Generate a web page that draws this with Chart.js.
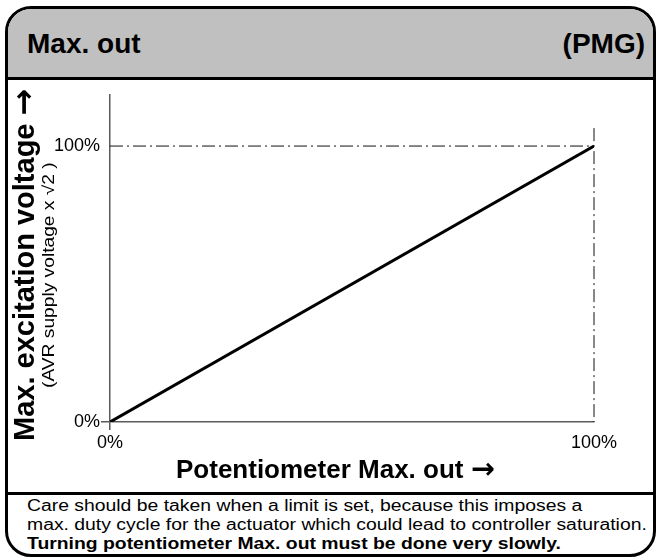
<!DOCTYPE html>
<html>
<head>
<meta charset="utf-8">
<script src="https://cdn.jsdelivr.net/npm/chart.js@4.4.1/dist/chart.umd.min.js"></script>
<style>
  html, body { margin: 0; padding: 0; background: #fff; }
  #wrap { position: relative; width: 661px; height: 558px; overflow: hidden; font-family: "Liberation Sans", Arial, sans-serif; color: #000; }
  #frame { position: absolute; left: 5px; top: 6px; width: 651px; height: 551px; box-sizing: border-box;
           border: 3px solid #000; border-radius: 26px; overflow: hidden; background: #fff; }
  #header { position: absolute; left: 0; top: 0; right: 0; height: 68px; background: #c0c0c0; border-bottom: 3px solid #000; }
  #footsep { position: absolute; left: 0; right: 0; top: 483px; height: 3px; background: #000; }
  .t { position: absolute; white-space: nowrap; }
  .arr { font-family: "DejaVu Sans", sans-serif; font-weight: bold; font-size: 1.1em; }
  #title { left: 27px; top: 27px; font-weight: bold; font-size: 28px; line-height: 34px; }
  #pmg { right: 16px; top: 27px; font-weight: bold; font-size: 28px; line-height: 34px; }
  #xtitle { left: 176px; top: 452px; font-weight: bold; font-size: 26px; line-height: 32px; }
  #ytitle { left: 7px; top: 441px; font-weight: bold; font-size: 29px; line-height: 32px;
            transform-origin: 0 0; transform: rotate(-90deg); }
  #ysub { left: 40px; top: 388px; font-size: 16px; line-height: 18px;
          transform-origin: 0 0; transform: rotate(-90deg) scaleX(1.2); }
  #foot { left: 27px; top: 496px; font-size: 16px; line-height: 19px;
          transform-origin: 0 0; transform: scaleX(1.21); }
  canvas#c { position: absolute; left: 8px; top: 80px; }
</style>
</head>
<body>
<div id="wrap">
  <div id="frame">
    <div id="header"></div>
    <div id="footsep"></div>
  </div>
  <canvas id="c" width="645" height="410" style="width:645px;height:410px"></canvas>
  <div class="t" id="title">Max. out</div>
  <div class="t" id="pmg">(PMG)</div>
  <div class="t" id="xtitle">Potentiometer Max. out <span class="arr">→</span></div>
  <div class="t" id="ytitle">Max. excitation voltage <span class="arr">→</span></div>
  <div class="t" id="ysub">(AVR supply voltage x √2 )</div>
  <div class="t" id="foot">Care should be taken when a limit is set, because this imposes a<br>max. duty cycle for the actuator which could lead to controller saturation.<br><b>Turning potentiometer Max. out must be done very slowly.</b></div>
</div>
<script>
// ---- data ----
const potentiometer = [0, 100];          // x: Potentiometer Max. out (%)
const excitation = [0, 100];             // y: Max. excitation voltage (%)
const refH_x = [0, 100];                 // horizontal reference at 100 %
const refH_y = [100, 100];
const refV_x = [100, 100];               // vertical reference at 100 %
const refV_y = [106.5, 0];
const xTicks = [0, 100];
const yTicks = [0, 100];
const xMax = 100;
const yMax = 118.5;

const toPts = (xs, ys) => xs.map((x, i) => ({ x: x, y: ys[i] }));
const DASHDOT = [13, 4, 2, 4];
const AXIS = '#5a5a5a';
const FONT = '"Liberation Sans", Arial, sans-serif';

new Chart(document.getElementById('c'), {
  type: 'line',
  data: {
    datasets: [
      { data: toPts(refH_x, refH_y), borderColor: '#111', borderWidth: 1, borderDash: DASHDOT, pointRadius: 0, order: 2 },
      { data: toPts(refV_x, refV_y), borderColor: '#111', borderWidth: 1, borderDash: DASHDOT, pointRadius: 0, order: 2, clip: false },
      { data: toPts(potentiometer, excitation), borderColor: '#000', borderWidth: 3, pointRadius: 0, order: 1 }
    ]
  },
  options: {
    responsive: false,
    animation: false,
    events: [],
    layout: { padding: { left: 0, right: 59, top: 15, bottom: 0 } },
    plugins: { legend: { display: false }, tooltip: { enabled: false } },
    scales: {
      x: {
        type: 'linear', min: 0, max: xMax,
        afterBuildTicks: s => { s.ticks = xTicks.map(v => ({ value: v })); },
        afterFit: s => { s.height = 68; },
        ticks: { callback: v => v + '%', color: '#000', padding: 2, maxRotation: 0,
                 font: { family: FONT, size: 18 } },
        grid: { drawOnChartArea: false, drawTicks: true, tickLength: 8,
                color: c => (c.tick && c.tick.value === 0) ? AXIS : 'rgba(0,0,0,0)', lineWidth: 1.5 },
        border: { display: true, color: AXIS, width: 1.5 }
      },
      y: {
        type: 'linear', min: 0, max: yMax,
        afterBuildTicks: s => { s.ticks = yTicks.map(v => ({ value: v })); },
        afterFit: s => { s.width = 102; },
        ticks: { callback: v => v + '%', color: '#000', padding: 1,
                 font: { family: FONT, size: 18 } },
        grid: { drawOnChartArea: false, drawTicks: true, tickLength: 9,
                color: c => (c.tick && c.tick.value === 0) ? AXIS : 'rgba(0,0,0,0)', lineWidth: 1.5 },
        border: { display: true, color: AXIS, width: 1.5 }
      }
    }
  }
});
</script>
</body>
</html>
